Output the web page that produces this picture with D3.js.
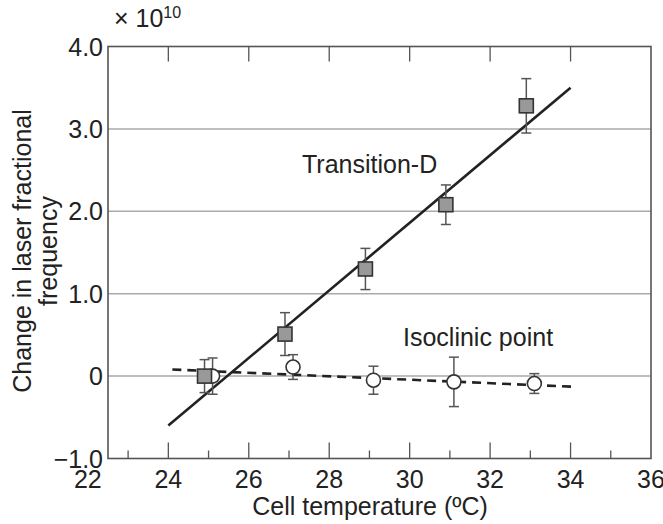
<!DOCTYPE html>
<html><head><meta charset="utf-8">
<script src="https://cdn.jsdelivr.net/npm/d3@7"></script>
<style>body{margin:0;background:#fff}svg{display:block}text{font-family:"Liberation Sans",Arial,Helvetica,sans-serif;fill:#222}</style>
</head><body>
<script>
// Data
const tempD = [24.9, 26.9, 28.9, 30.9, 32.9];
const valD  = [0.0, 0.51, 1.30, 2.08, 3.28];
const errD  = [0.20, 0.26, 0.25, 0.24, 0.33];
const tempI = [25.1, 27.1, 29.1, 31.1, 33.1];
const valI  = [0.0, 0.11, -0.05, -0.07, -0.09];
const errI  = [0.22, 0.15, 0.17, 0.30, 0.12];
const fitD  = [[24.0, -0.6], [34.0, 3.5]];
const fitI  = [[24.1, 0.08], [34.1, -0.13]];
const xTickLabels = [22, 24, 26, 28, 30, 32, 34, 36];
const xMinorTicks = [23, 25, 27, 29, 31, 33, 35];
const yTicks = [-1, 0, 1, 2, 3, 4];
const yTickLabels = ["\u22121.0", "0", "1.0", "2.0", "3.0", "4.0"];

const W = 663, H = 524;
const svg = d3.select("body").append("svg").attr("width", W).attr("height", H);
const x = d3.scaleLinear().domain([22.5, 36]).range([108, 651]);
const y = d3.scaleLinear().domain([-1, 4]).range([458.5, 46.5]);
const frameC = "#555";

// gridlines
svg.append("g").selectAll("line").data(yTicks.filter(v => v > -1 && v < 4)).join("line")
  .attr("x1", x(22.5)).attr("x2", x(36)).attr("y1", d => y(d)).attr("y2", d => y(d))
  .attr("stroke", "#aaa").attr("stroke-width", 1.5);

// frame
svg.append("rect").attr("x", x(22.5)).attr("y", y(4)).attr("width", x(36) - x(22.5)).attr("height", y(-1) - y(4))
  .attr("fill", "none").attr("stroke", frameC).attr("stroke-width", 1.6);

// bottom ticks (inward)
const majorIn = xTickLabels.filter(v => v > 22.5 && v < 36);
svg.append("g").selectAll("line").data(majorIn).join("line")
  .attr("x1", d => x(d)).attr("x2", d => x(d)).attr("y1", y(-1)).attr("y2", y(-1) - 16)
  .attr("stroke", frameC).attr("stroke-width", 1.3);
svg.append("g").selectAll("line").data(xMinorTicks).join("line")
  .attr("x1", d => x(d)).attr("x2", d => x(d)).attr("y1", y(-1)).attr("y2", y(-1) - 8)
  .attr("stroke", frameC).attr("stroke-width", 1.3);
// top ticks
svg.append("g").selectAll("line").data(majorIn).join("line")
  .attr("x1", d => x(d)).attr("x2", d => x(d)).attr("y1", y(4)).attr("y2", y(4) + 15)
  .attr("stroke", frameC).attr("stroke-width", 1.3);

// tick labels
svg.append("g").selectAll("text").data(xTickLabels).join("text")
  .attr("x", d => x(d)).attr("y", 488).attr("text-anchor", "middle")
  .attr("font-size", 25).text(d => d);
svg.append("g").selectAll("text").data(yTicks).join("text")
  .attr("x", 103).attr("y", d => y(d) + 9).attr("text-anchor", "end")
  .attr("font-size", 25).text((d, i) => yTickLabels[i]);

// multiplier
const mult = svg.append("text").attr("x", 114).attr("y", 27).attr("font-size", 25);
mult.append("tspan").text("\u00d7 10");
mult.append("tspan").attr("font-size", 16).attr("dy", -9).text("10");

// axis titles
svg.append("text").attr("x", 370).attr("y", 515).attr("text-anchor", "middle")
  .attr("font-size", 25).text("Cell temperature (\u00baC)");
svg.append("text").attr("transform", "translate(31,251) rotate(-90)").attr("text-anchor", "middle")
  .attr("font-size", 25).text("Change in laser fractional");
svg.append("text").attr("transform", "translate(57,251) rotate(-90)").attr("text-anchor", "middle")
  .attr("font-size", 25).text("frequency");

// fit lines
const line = d3.line().x(d => x(d[0])).y(d => y(d[1]));
svg.append("path").datum(fitD).attr("d", line).attr("fill", "none").attr("stroke", "#222").attr("stroke-width", 2.6);
svg.append("path").datum(fitI).attr("d", line).attr("fill", "none").attr("stroke", "#222").attr("stroke-width", 2.6)
  .attr("stroke-dasharray", "9,6");

// error bars
function errBars(ts, vs, es) {
  const g = svg.append("g").attr("stroke", "#555").attr("stroke-width", 1.5);
  ts.forEach((t, i) => {
    const cx = x(t), y1 = y(vs[i] + es[i]), y2 = y(vs[i] - es[i]);
    g.append("line").attr("x1", cx).attr("x2", cx).attr("y1", y1).attr("y2", y2);
    g.append("line").attr("x1", cx - 5).attr("x2", cx + 5).attr("y1", y1).attr("y2", y1);
    g.append("line").attr("x1", cx - 5).attr("x2", cx + 5).attr("y1", y2).attr("y2", y2);
  });
}
errBars(tempI, valI, errI);
errBars(tempD, valD, errD);

// markers
svg.append("g").selectAll("circle").data(tempI).join("circle")
  .attr("cx", d => x(d)).attr("cy", (d, i) => y(valI[i])).attr("r", 7)
  .attr("fill", "#fff").attr("stroke", "#333").attr("stroke-width", 1.6);
svg.append("g").selectAll("rect").data(tempD).join("rect")
  .attr("x", d => x(d) - 7).attr("y", (d, i) => y(valD[i]) - 7).attr("width", 14).attr("height", 14)
  .attr("fill", "#999").attr("stroke", "#333").attr("stroke-width", 1.6);

// annotations
svg.append("text").attr("x", 302).attr("y", 173).attr("font-size", 25).text("Transition-D");
svg.append("text").attr("x", 403).attr("y", 346).attr("font-size", 25).text("Isoclinic point");
</script>
</body></html>
